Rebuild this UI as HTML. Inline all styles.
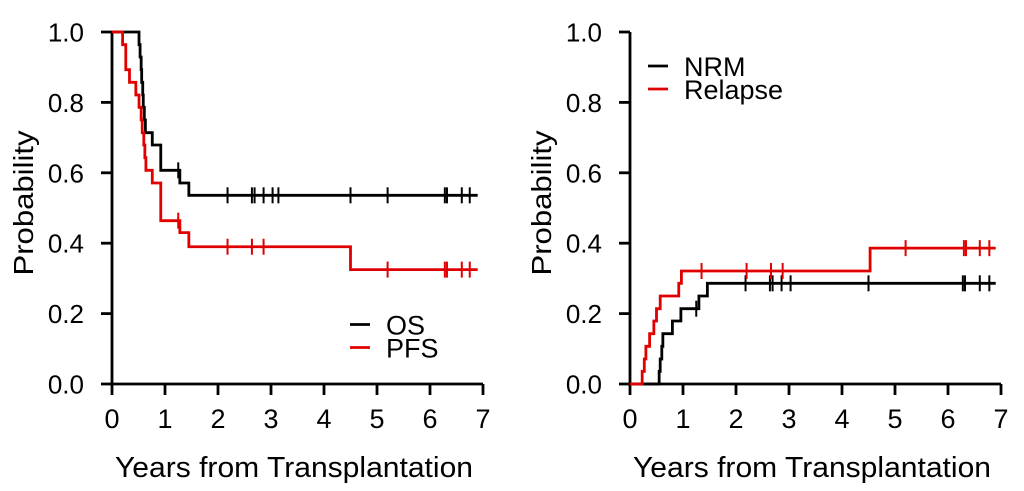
<!DOCTYPE html>
<html><head><meta charset="utf-8"><style>
body{margin:0;background:#fff;}
svg{display:block;font-family:"Liberation Sans",Arial,sans-serif;}
</style></head><body>
<svg id="chart" width="1024" height="491" viewBox="0 0 1024 491">
<g id="left"></g>
<g id="right"></g>
</svg>
<script>
// Left panel: OS and PFS (time in years, survival probability)
const osTimes = [0, 0.51,0.53,0.55,0.56,0.58,0.59,0.61,0.63,0.76,0.92,1.28,1.45];
const osValues = [1,0.964,0.929,0.893,0.857,0.821,0.786,0.75,0.714,0.679,0.607,0.571,0.536];
const osCensor = [1.25,2.18,2.64,2.69,2.86,3.03,3.14,4.5,5.2,6.28,6.32,6.6,6.75];
const pfsTimes = [0,0.2,0.26,0.33,0.45,0.51,0.55,0.57,0.6,0.62,0.64,0.76,0.92,1.28,1.45,4.5];
const pfsValues = [1,0.964,0.893,0.857,0.821,0.786,0.75,0.714,0.679,0.643,0.607,0.571,0.464,0.43,0.39,0.325];
const pfsCensor = [1.25,2.18,2.64,2.86,5.2,6.28,6.32,6.6,6.75];
// Right panel: cumulative incidence
const nrmTimes = [0,0.55,0.57,0.6,0.62,0.8,0.96,1.3,1.46];
const nrmValues = [0,0.036,0.071,0.107,0.143,0.179,0.214,0.25,0.286];
const nrmCensor = [1.25,2.18,2.64,2.69,2.86,3.03,4.5,6.28,6.32,6.6,6.78];
const relTimes = [0,0.23,0.27,0.3,0.37,0.45,0.5,0.57,0.92,0.97,4.53];
const relValues = [0,0.036,0.071,0.107,0.143,0.179,0.214,0.25,0.286,0.321,0.386];
const relCensor = [1.35,2.2,2.66,2.88,5.2,6.3,6.34,6.6,6.78];
const xTicks = [0,1,2,3,4,5,6,7];
const yTicks = ["0.0","0.2","0.4","0.6","0.8","1.0"];
const endTime = 6.9;

const NS="http://www.w3.org/2000/svg";
function mk(parent,tag,attrs){const e=document.createElementNS(NS,tag);for(const k in attrs)e.setAttribute(k,attrs[k]);parent.appendChild(e);return e;}

function panel(g,x0,name,series,legend){
  const y0=384, yTop=32, sx=53;
  const X=t=>x0+t*sx, Y=v=>y0-v*(y0-yTop);
  const ax=mk(g,'path',{d:`M${x0} ${yTop}V${y0}H${X(7)}`,stroke:'#000','stroke-width':2.8,fill:'none'});
  
  
  xTicks.forEach(t=>{
    mk(g,'line',{x1:X(t),x2:X(t),y1:y0,y2:y0+11,stroke:'#000','stroke-width':2.8});
    const tx=mk(g,'text',{x:X(t),y:428,'font-size':27,'text-anchor':'middle'});tx.textContent=t;
    
    
  });
  yTicks.forEach(l=>{
    const v=parseFloat(l);
    mk(g,'line',{x1:x0-11,x2:x0,y1:Y(v),y2:Y(v),stroke:'#000','stroke-width':2.8});
    const tx=mk(g,'text',{x:x0-28,y:Y(v)+9.5,'font-size':26,'text-anchor':'end'});tx.textContent=l;
    
    
  });
  const yl=mk(g,'text',{x:0,y:0,'font-size':28,'text-anchor':'middle',textLength:145,lengthAdjust:'spacingAndGlyphs',transform:`translate(${x0-79},${203}) rotate(-90)`});
  yl.textContent='Probability';
  
  
  const xl=mk(g,'text',{x:x0+182,y:477,'font-size':29,'text-anchor':'middle',textLength:358,lengthAdjust:'spacingAndGlyphs'});
  xl.textContent='Years from Transplantation';
  
  
  series.forEach(s=>{
    let d=`M${X(s.t[0])} ${Y(s.v[0])}`;
    for(let i=1;i<s.t.length;i++){d+=`H${X(s.t[i])}V${Y(s.v[i])}`;}
    d+=`H${X(endTime)}`;
    const p=mk(g,'path',{d,stroke:s.c,'stroke-width':2.8,fill:'none'});
    
    
    s.cen.forEach(t=>{
      let v=s.v[0];for(let i=0;i<s.t.length;i++)if(s.t[i]<=t)v=s.v[i];
      const m=mk(g,'line',{x1:X(t),x2:X(t),y1:Y(v)-8,y2:Y(v)+8,stroke:s.c,'stroke-width':2});
      
      
    });
  });
  legend.items.forEach((it,i)=>{
    const y=legend.y+i*23;
    const l=mk(g,'line',{x1:legend.x,x2:legend.x+20,y1:y,y2:y,stroke:it.c,'stroke-width':2.8});
    
    
    const t=mk(g,'text',{x:legend.x+36,y:y+10,'font-size':27});t.textContent=it.label;
    
    
  });
}
panel(document.getElementById('left'),112,'left',
  [{t:osTimes,v:osValues,cen:osCensor,c:'#000',n:'os'},{t:pfsTimes,v:pfsValues,cen:pfsCensor,c:'#e00000',n:'pfs'}],
  {x:350,y:324.5,items:[{label:'OS',c:'#000'},{label:'PFS',c:'#e00000'}]});
panel(document.getElementById('right'),630,'right',
  [{t:nrmTimes,v:nrmValues,cen:nrmCensor,c:'#000',n:'nrm'},{t:relTimes,v:relValues,cen:relCensor,c:'#e00000',n:'relapse'}],
  {x:648,y:66,items:[{label:'NRM',c:'#000'},{label:'Relapse',c:'#e00000'}]});
</script>
</body></html>
